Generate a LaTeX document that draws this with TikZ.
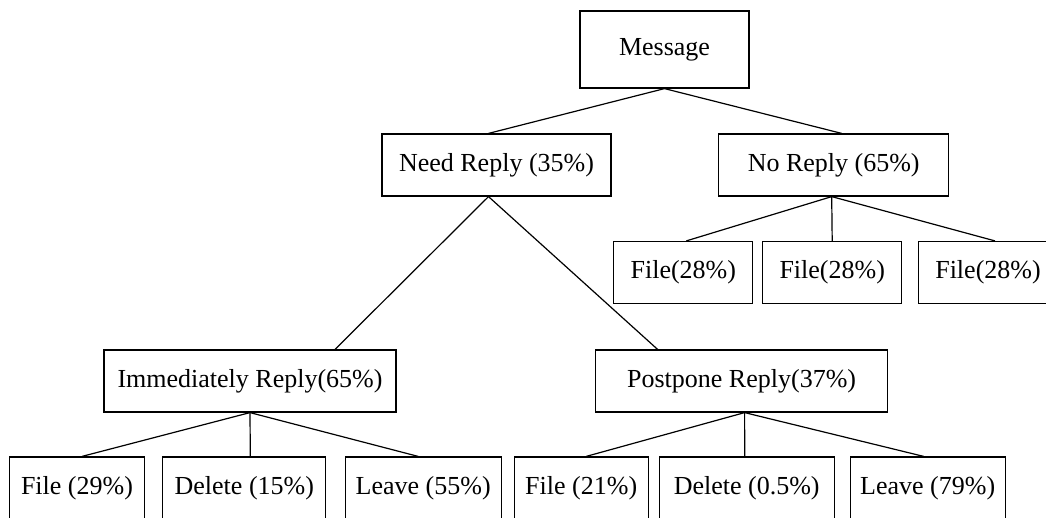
\documentclass[tikz,border=0pt]{standalone}
\usepackage{fontspec}
\setmainfont{Liberation Serif}
\usetikzlibrary{positioning}

\begin{document}
\begin{tikzpicture}[
  x=1pt, y=-1pt,
  box/.style={draw=black, line width=1.2pt, rectangle, inner sep=2pt,
              minimum width=#1, minimum height=62pt,
              font=\fontsize{26}{30}\selectfont},
  link/.style={draw=black, line width=1.2pt}
]
  \useasboundingbox (0,0) rectangle (1046,517);

  % root and first level
  \node[box=169pt, minimum height=77pt] (msg) at (664.5, 49.5) {Message};
  \node[box=229pt] (need)    at (496.5, 165) {Need Reply (35\%)};
  \node[box=230pt] (noreply) at (833.7, 165) {No Reply (65\%)};

  % no reply branch
  \node[box=139pt] (nfileA) at (683.3, 272.5) {File(28\%)};
  \node[box=139pt] (nfileB) at (832.2, 272.5) {File(28\%)};
  \node[box=139pt] (nfileC) at (988,   272.5) {File(28\%)};

  % need reply branch
  \node[box=292pt] (imm)  at (250,   381) {Immediately Reply(65\%)};
  \node[box=292pt] (post) at (741.6, 381) {Postpone Reply(37\%)};

  \node[box=135pt] (ifile)   at (77,    488) {File (29\%)};
  \node[box=163pt] (idelete) at (244.3, 488) {Delete (15\%)};
  \node[box=156pt] (ileave)  at (423.2, 488) {Leave (55\%)};
  \node[box=134pt] (pfile)   at (581.2, 488) {File (21\%)};
  \node[box=175pt] (pdelete) at (746.7, 488) {Delete (0.5\%)};
  \node[box=155pt] (pleave)  at (927.7, 488) {Leave (79\%)};

  % connectors
  \draw[link] (msg.south) -- ([xshift=-8pt]need.north);
  \draw[link] (msg.south) -- ([xshift=8pt]noreply.north);
  \draw[link] ([xshift=-8pt]need.south) -- ([xshift=85pt]imm.north);
  \draw[link] ([xshift=-8pt]need.south) -- ([xshift=-84pt]post.north);
  \foreach \c/\s in {nfileA/3, nfileB/0, nfileC/7}
    \draw[link] ([xshift=-2pt]noreply.south) -- ([xshift=\s pt]\c.north);
  \foreach \c/\s in {ifile/5, idelete/6, ileave/-5}
    \draw[link] (imm.south) -- ([xshift=\s pt]\c.north);
  \foreach \c/\s in {pfile/5, pdelete/-2, pleave/-4}
    \draw[link] ([xshift=3pt]post.south) -- ([xshift=\s pt]\c.north);
\end{tikzpicture}
\end{document}
